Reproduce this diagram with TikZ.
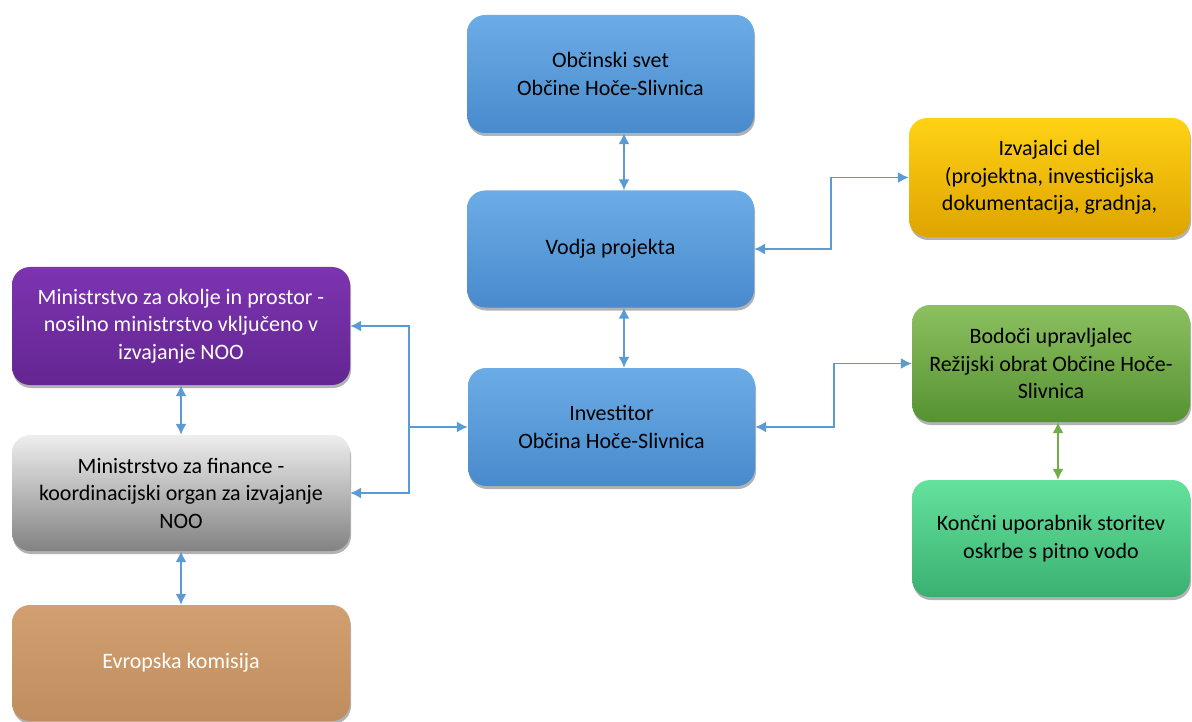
\documentclass[tikz,border=0pt]{standalone}
\usepackage{fontspec}
\setmainfont{Carlito}
\usetikzlibrary{arrows.meta,shadows}
\definecolor{arrowblue}{HTML}{5B9BD5}
\definecolor{arrowgreen}{HTML}{70AD47}
\begin{document}
\begin{tikzpicture}[x=1pt,y=-1pt,
  box/.style={rounded corners=18pt, align=center, inner sep=0pt,
    font=\fontsize{22}{27.5}\selectfont,
    drop shadow={shadow xshift=1pt,shadow yshift=-3pt,opacity=.3,fill=black}},
  bluebox/.style={box, top color={rgb,255:red,108;green,172;blue,230}, bottom color={rgb,255:red,72;green,138;blue,204}, text=black},
  purplebox/.style={box, top color={rgb,255:red,124;green,52;blue,176}, bottom color={rgb,255:red,100;green,38;blue,146}, text=white},
  graybox/.style={box, top color={rgb,255:red,238;green,238;blue,238}, bottom color={rgb,255:red,130;green,130;blue,130}, text=black},
  orangebox/.style={box, top color={rgb,255:red,210;green,160;blue,112}, bottom color={rgb,255:red,192;green,142;blue,94}, text=white},
  yellowbox/.style={box, top color={rgb,255:red,255;green,210;blue,20}, bottom color={rgb,255:red,222;green,164;blue,0}, text=black},
  greenbox/.style={box, top color={rgb,255:red,140;green,192;blue,96}, bottom color={rgb,255:red,86;green,146;blue,50}, text=black},
  mintbox/.style={box, top color={rgb,255:red,100;green,226;blue,156}, bottom color={rgb,255:red,58;green,176;blue,112}, text=black},
  conn/.style={draw=arrowblue, line width=1.6pt, {Latex[length=11pt,width=11pt]}-{Latex[length=11pt,width=11pt]}},
  connone/.style={draw=arrowblue, line width=1.6pt, -{Latex[length=11pt,width=11pt]}},
  conng/.style={draw=arrowgreen, line width=1.6pt, {Latex[length=11pt,width=11pt]}-{Latex[length=11pt,width=11pt]}}
]
\useasboundingbox (0,0) rectangle (1192,722);

\node[bluebox, minimum width=287pt, minimum height=118pt] (svet) at (610.5,74) {Občinski svet\\Občine Hoče-Slivnica};
\node[bluebox, minimum width=287pt, minimum height=117pt] (vodja) at (610.5,249) {Vodja projekta};
\node[bluebox, minimum width=287pt, minimum height=118pt] (invest) at (611.5,427) {Investitor\\Občina Hoče-Slivnica};
\node[yellowbox, minimum width=281pt, minimum height=119pt] (izv) at (1049.5,177.5) {Izvajalci del\\ (projektna, investicijska\\dokumentacija, gradnja,};
\node[greenbox, minimum width=278pt, minimum height=117pt] (bod) at (1051,363.5) {Bodoči upravljalec\\Režijski obrat Občine Hoče-\\Slivnica};
\node[mintbox, minimum width=278pt, minimum height=117pt] (konc) at (1051,538.5) {Končni uporabnik storitev\\oskrbe s pitno vodo};
\node[purplebox, minimum width=338pt, minimum height=118pt] (okolje) at (181,326) {Ministrstvo za okolje in prostor -\\nosilno ministrstvo vključeno v\\izvajanje NOO};
\node[graybox, minimum width=338pt, minimum height=116pt] (fin) at (181,493) {Ministrstvo za finance -\\koordinacijski organ za izvajanje\\NOO};
\node[orangebox, minimum width=338pt, minimum height=116pt] (ek) at (181,663) {Evropska komisija};

\coordinate (ax) at (624,0);
\coordinate (m1) at (831,0);
\coordinate (m2) at (834,0);
\coordinate (gx) at (1058,0);
\coordinate (j) at (409,427);

\draw[conn] (svet.south -| ax) -- (vodja.north -| ax);
\draw[conn] (vodja.south -| ax) -- (invest.north -| ax);
\draw[conn] (vodja.east) -- (vodja.east -| m1) |- (izv.west);
\draw[conn] (invest.east) -- (invest.east -| m2) |- (bod.west);
\draw[conng] (bod.south -| gx) -- (konc.north -| gx);
\draw[connone] (j) -- (invest.west);
\draw[connone] (j) |- (okolje.east);
\draw[connone] (j) |- (fin.east);
\draw[conn] (okolje.south) -- (fin.north);
\draw[conn] (fin.south) -- (ek.north);
\end{tikzpicture}
\end{document}
